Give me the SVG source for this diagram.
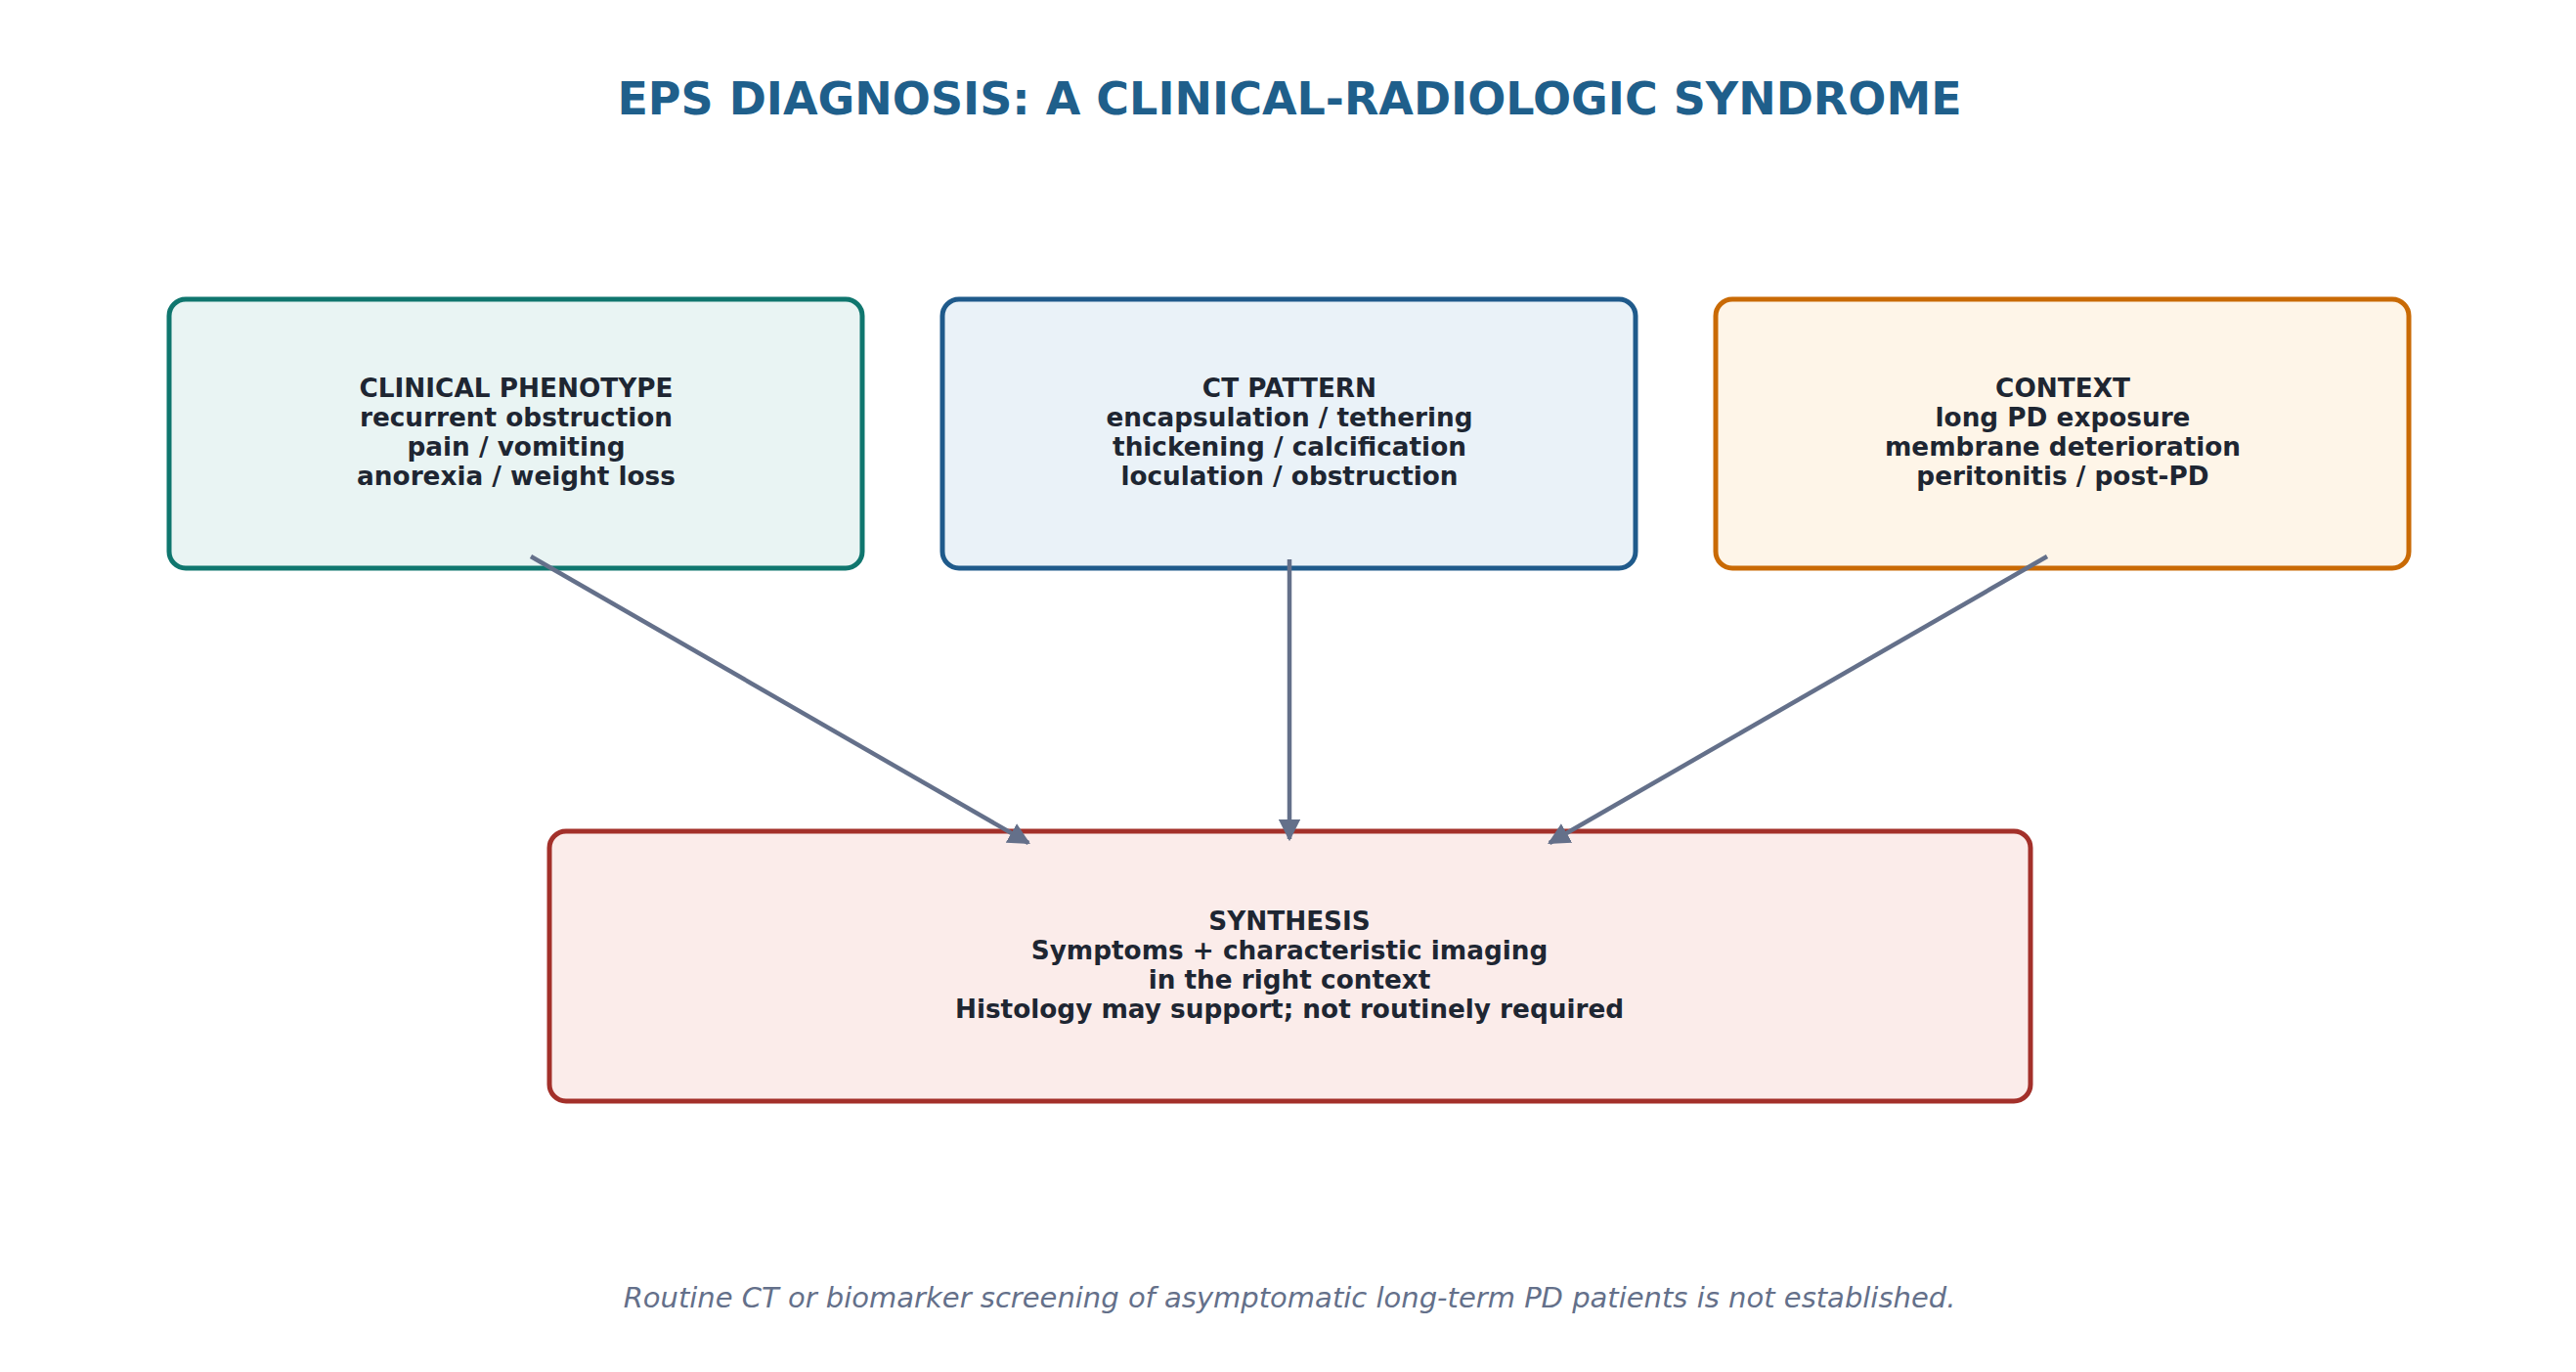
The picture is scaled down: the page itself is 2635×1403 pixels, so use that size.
<svg xmlns="http://www.w3.org/2000/svg" width="2635" height="1403" viewBox="0 0 2635 1403">
<style>
text{font-family:"DejaVu Sans",sans-serif;font-weight:bold;text-anchor:middle;fill:#1e2632}
.t{font-size:26.3px}
.title{font-size:46px;fill:#1f5f8b}
.foot{font-size:29px;font-weight:normal;font-style:italic;fill:#64708a}
.box{stroke-width:5}
.c{stroke:#64708a;stroke-width:4.5;fill:none;marker-end:url(#a)}
</style>
<defs><marker id="a" viewBox="0 0 10 10" refX="9" refY="5" markerWidth="5" markerHeight="5" orient="auto" markerUnits="strokeWidth"><path d="M0,0 L10,5 L0,10 z" fill="#64708a"/></marker></defs>
<rect width="2635" height="1403" fill="#fff"/>
<text class="title" x="1319" y="117">EPS DIAGNOSIS: A CLINICAL-RADIOLOGIC SYNDROME</text>
<g id="clinical"><rect class="box" x="173" y="306" width="709" height="275" rx="17" fill="#e9f4f3" stroke="#0f766e"/>
<text class="t" x="528" y="406">CLINICAL PHENOTYPE</text><text class="t" x="528" y="436">recurrent obstruction</text><text class="t" x="528" y="466">pain / vomiting</text><text class="t" x="528" y="496">anorexia / weight loss</text></g>
<g id="ct"><rect class="box" x="964" y="306" width="709" height="275" rx="17" fill="#eaf2f8" stroke="#1f5a8b"/>
<text class="t" x="1319" y="406">CT PATTERN</text><text class="t" x="1319" y="436">encapsulation / tethering</text><text class="t" x="1319" y="466">thickening / calcification</text><text class="t" x="1319" y="496">loculation / obstruction</text></g>
<g id="context"><rect class="box" x="1755" y="306" width="709" height="275" rx="17" fill="#fef5e8" stroke="#c96a05"/>
<text class="t" x="2110" y="406">CONTEXT</text><text class="t" x="2110" y="436">long PD exposure</text><text class="t" x="2110" y="466">membrane deterioration</text><text class="t" x="2110" y="496">peritonitis / post-PD</text></g>
<g id="synthesis"><rect class="box" x="562" y="850" width="1515" height="276" rx="17" fill="#fbecea" stroke="#a3302a"/>
<text class="t" x="1319" y="951">SYNTHESIS</text><text class="t" x="1319" y="981">Symptoms + characteristic imaging</text><text class="t" x="1319" y="1011">in the right context</text><text class="t" x="1319" y="1041">Histology may support; not routinely required</text></g>
<g id="connectors">
<line class="c" x1="543" y1="569" x2="1052" y2="862"/>
<line class="c" x1="1319" y1="572" x2="1319" y2="858"/>
<line class="c" x1="2094" y1="569" x2="1585" y2="862"/>
</g>
<text class="foot" x="1319" y="1337">Routine CT or biomarker screening of asymptomatic long-term PD patients is not established.</text>
</svg>
